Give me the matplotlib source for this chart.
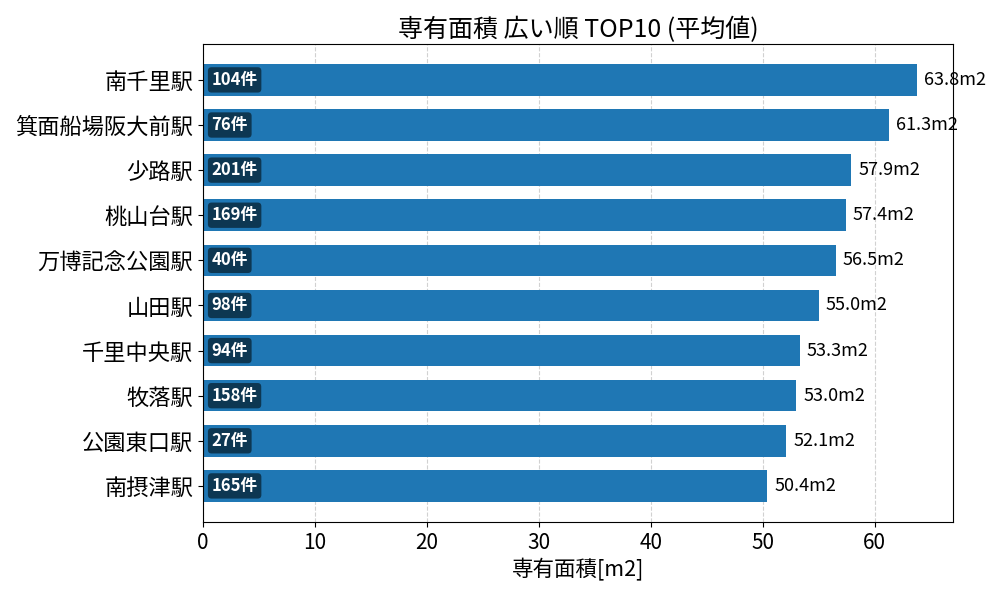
import matplotlib
matplotlib.use("Agg")
import matplotlib.pyplot as plt

plt.rcParams['font.family'] = ['Noto Sans CJK JP', 'DejaVu Sans']

stations = ["南千里駅", "箕面船場阪大前駅", "少路駅", "桃山台駅", "万博記念公園駅",
            "山田駅", "千里中央駅", "牧落駅", "公園東口駅", "南摂津駅"]
areas = [63.8, 61.3, 57.9, 57.4, 56.5, 55.0, 53.3, 53.0, 52.1, 50.4]
counts = [104, 76, 201, 169, 40, 98, 94, 158, 27, 165]

fig, ax = plt.subplots(figsize=(10, 6), dpi=100)
fig.subplots_adjust(left=0.203, right=0.953, top=0.927, bottom=0.13)

y = list(range(len(stations)))[::-1]
ax.barh(y, areas, height=0.7, color='#1f77b4', zorder=2)
ax.set_yticks(y)
ax.set_yticklabels(stations, fontsize=16)
ax.tick_params(axis='x', labelsize=15)
mx = max(areas)
ax.set_xlim(0, mx * 1.05)
ax.set_ylim(-0.8, len(stations) - 0.2)
ax.grid(axis='x', linestyle='--', color='#cccccc', alpha=0.9, zorder=0)
ax.set_axisbelow(True)

for yi, a, c in zip(y, areas, counts):
    ax.text(a + mx * 0.01, yi, f"{a:.1f}m2", va='center', ha='left', fontsize=13, zorder=3)
    ax.text(mx * 0.012, yi, f"{c}件", va='center', ha='left', fontsize=12,
            color='white', fontweight='bold', zorder=4,
            bbox=dict(boxstyle='round,pad=0.22', facecolor='#0c3048', edgecolor='none', alpha=0.9))

ax.set_title("専有面積 広い順 TOP10 (平均値)", fontsize=18, pad=5)
ax.set_xlabel("専有面積[m2]", fontsize=15.5, labelpad=3)

fig.savefig("out.png", dpi=100)
